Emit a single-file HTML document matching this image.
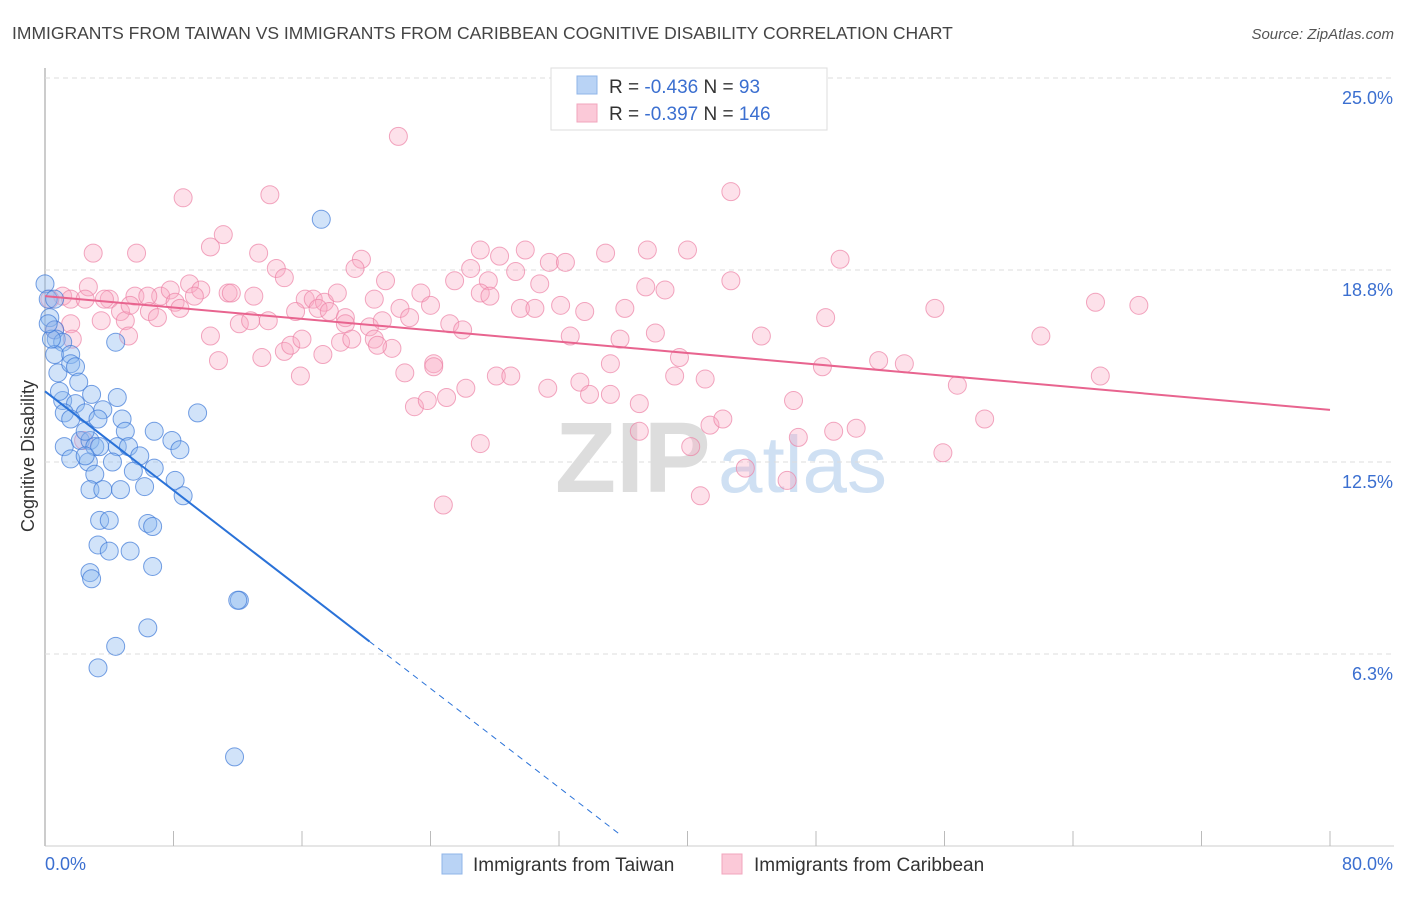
<!DOCTYPE html>
<html><head><meta charset="utf-8"><style>
body{margin:0;background:#fff;font-family:"Liberation Sans",sans-serif}
svg text{font-family:"Liberation Sans",sans-serif}
</style></head><body>
<svg id="chart" width="1406" height="892" xmlns="http://www.w3.org/2000/svg">
<text x="12" y="39" font-size="17.5" fill="#444">IMMIGRANTS FROM TAIWAN VS IMMIGRANTS FROM CARIBBEAN COGNITIVE DISABILITY CORRELATION CHART</text>
<text x="1394" y="39" font-size="15" fill="#555" text-anchor="end" font-style="italic">Source: ZipAtlas.com</text>
<text x="555" y="492" font-size="100" fill="#ddd" font-family="Liberation Serif" font-weight="bold">ZIP</text>
<text x="718" y="492" font-size="80" fill="#cfe0f3">atlas</text>
<g id="grid"></g><g id="pts"></g><g id="lines"></g>
<text transform="translate(34,456) rotate(-90)" font-size="18" fill="#333" text-anchor="middle">Cognitive Disability</text>
<g>
<rect x="551" y="68" width="276" height="62" fill="#fff" stroke="#ddd"/>
<rect x="577" y="76" width="20" height="18" fill="#b9d3f5" stroke="#8fb4e8"/>
<rect x="577" y="104" width="20" height="18" fill="#fbc9d8" stroke="#f2a5bd"/>
<text x="609" y="93" font-size="19" fill="#333">R = <tspan fill="#3b6fd0">-0.436</tspan>   N =   <tspan fill="#3b6fd0">93</tspan></text>
<text x="609" y="120" font-size="19" fill="#333">R = <tspan fill="#3b6fd0">-0.397</tspan>   N = <tspan fill="#3b6fd0">146</tspan></text>
</g>
<g>
<rect x="442" y="854" width="20" height="20" fill="#b9d3f5" stroke="#8fb4e8"/>
<text x="473" y="871" font-size="19" fill="#333">Immigrants from Taiwan</text>
<rect x="722" y="854" width="20" height="20" fill="#fbc9d8" stroke="#f2a5bd"/>
<text x="754" y="871" font-size="19" fill="#333">Immigrants from Caribbean</text>
</g>
</svg>
<script>
const yTicks=[6.25,12.5,18.75,25];
const yTickLabels=["6.3%","12.5%","18.8%","25.0%"];
const xTickLabels=["0.0%","80.0%"];
const blueX=[17.2,0,0.2,0.6,0.3,0.6,0.7,1.1,4.4,0.6,1.6,0.8,1.6,1.9,2.1,2.9,4.5,1.1,1.9,1.2,2.5,3.6,9.5,1.6,3.3,4.8,5.0,1.2,2.2,2.8,3.1,3.4,4.5,5.2,6.8,7.9,8.4,2.7,1.6,2.5,4.2,5.9,6.8,5.5,8.1,3.1,2.8,3.6,4.7,6.2,8.6,3.4,4.0,6.4,6.7,3.3,4.0,5.3,6.7,2.8,2.9,12.1,12.0,6.4,4.4,3.3,11.8,0.9,2.5,0.4,0.2];
const blueY=[20.4,18.3,17.8,17.8,17.2,16.8,16.5,16.4,16.4,16.0,16.0,15.4,15.7,15.6,15.1,14.7,14.6,14.5,14.4,14.1,14.1,14.2,14.1,13.9,13.9,13.9,13.5,13.0,13.2,13.2,13.0,13.0,13.0,13.0,13.5,13.2,12.9,12.5,12.6,12.7,12.5,12.7,12.3,12.2,11.9,12.1,11.6,11.6,11.6,11.7,11.4,10.6,10.6,10.5,10.4,9.8,9.6,9.6,9.1,8.9,8.7,8.0,8.0,7.1,6.5,5.8,2.9,14.8,13.5,16.5,17.0];
const pinkX=[22.0,42.7,8.6,14.0,11.1,3.0,5.7,10.3,13.3,19.7,27.1,29.9,28.3,34.9,37.5,40.0,49.5,31.4,32.4,26.5,14.4,29.3,19.3,14.9,21.2,25.5,27.6,30.8,37.4,38.6,42.7,16.2,9.0,5.6,7.2,7.8,9.7,11.4,11.6,13.0,9.3,6.4,4.0,2.7,1.1,1.6,2.5,3.7,4.7,6.5,8.1,8.4,16.7,17.4,18.2,17.0,17.7,18.7,20.5,22.1,23.4,24.0,27.1,27.7,29.6,30.5,32.1,33.6,36.1,55.4,65.4,68.1,48.6,1.6,3.5,5.0,7.0,10.3,12.1,12.8,13.9,15.6,18.7,20.2,21.0,22.7,25.2,26.0,32.7,35.8,38.0,44.6,62.0,5.2,1.7,10.8,13.5,14.9,15.3,16.0,17.3,18.4,19.1,20.5,21.6,22.4,24.2,20.7,15.9,24.2,26.2,28.1,29.0,31.3,33.3,33.9,35.2,37.0,39.2,39.5,41.1,51.9,53.5,48.4,56.8,65.7,23.0,23.8,25.0,35.2,37.0,41.4,42.2,46.6,58.5,46.9,49.1,50.5,27.1,40.2,43.6,55.9,46.2,40.8,24.8,0.3,0.6,2.4,5.3];
const pinkY=[23.1,21.3,21.1,21.2,19.9,19.3,19.3,19.5,19.3,19.1,19.4,19.4,19.2,19.3,19.4,19.4,19.1,19.0,19.0,18.8,18.8,18.7,18.8,18.5,18.4,18.4,18.4,18.3,18.2,18.1,18.4,17.8,18.3,17.9,17.9,18.1,18.1,18.0,18.0,17.9,17.9,17.9,17.8,18.2,17.9,17.8,17.8,17.8,17.4,17.4,17.7,17.5,17.8,17.7,18.0,17.5,17.4,17.2,17.8,17.5,18.0,17.6,18.0,17.9,17.5,17.5,17.6,17.4,17.5,17.5,17.7,17.6,17.2,17.0,17.1,17.1,17.2,16.6,17.0,17.1,17.1,17.4,17.0,16.9,17.1,17.2,17.0,16.8,16.6,16.5,16.7,16.6,16.6,16.6,16.5,15.8,15.9,16.1,16.3,16.5,16.0,16.4,16.5,16.5,16.2,15.4,15.7,16.3,15.3,15.6,14.9,15.3,15.3,14.9,15.1,14.7,15.7,14.4,15.3,15.9,15.2,15.8,15.7,15.6,15.0,15.3,14.3,14.5,14.6,14.7,13.5,13.7,13.9,14.5,13.9,13.3,13.5,13.6,13.1,13.0,12.3,12.8,11.9,11.4,11.1,17.8,16.8,13.2,17.6];
const blueTrend=[14.8,-0.403];
const pinkTrend=[17.9,-0.0463];
const X0=45,X1=1330,Y0=846,PXY=30.72;
function sx(v){return X0+(X1-X0)*v/80;}
function sy(v){return Y0-v*PXY;}
const NS="http://www.w3.org/2000/svg";
function mk(t,a,p){const e=document.createElementNS(NS,t);for(const k in a)e.setAttribute(k,a[k]);p.appendChild(e);return e;}
const grid=document.getElementById('grid');
const ax=mk('line',{x1:45,y1:68,x2:45,y2:846,stroke:'#bbb','stroke-width':1.5},grid);


const bx=mk('line',{x1:45,y1:846,x2:1394,y2:846,stroke:'#ccc'},grid);


for(let i=0;i<=10;i++){const t=mk('line',{x1:sx(i*8),y1:831,x2:sx(i*8),y2:846,stroke:'#bbb'},grid);

}
yTicks.forEach((v,i)=>{const g=mk('line',{x1:45,y1:sy(v),x2:1394,y2:sy(v),stroke:'#ddd','stroke-dasharray':'5,4'},grid);


const t=mk('text',{x:1393,y:sy(v)+26,'font-size':18,fill:'#3b6fd0','text-anchor':'end'},grid);t.textContent=yTickLabels[i];

});
const xl=mk('text',{x:45,y:870,'font-size':18,fill:'#3b6fd0'},grid);xl.textContent=xTickLabels[0];


const xr=mk('text',{x:1393,y:870,'font-size':18,fill:'#3b6fd0','text-anchor':'end'},grid);xr.textContent=xTickLabels[1];


const pts=document.getElementById('pts');
pinkX.forEach((x,i)=>{const c=mk('circle',{cx:sx(x),cy:sy(pinkY[i]),r:9,fill:'rgba(248,170,196,0.35)',stroke:'rgba(236,130,165,0.7)','stroke-width':1},pts);

});
blueX.forEach((x,i)=>{const c=mk('circle',{cx:sx(x),cy:sy(blueY[i]),r:9,fill:'rgba(140,185,240,0.4)',stroke:'rgba(60,120,215,0.7)','stroke-width':1},pts);

});
const lines=document.getElementById('lines');
const bl=mk('line',{x1:sx(0),y1:sy(blueTrend[0]),x2:sx(20.2),y2:sy(blueTrend[0]+blueTrend[1]*20.2),stroke:'#2a72d8','stroke-width':2},lines);


const bd=mk('line',{x1:sx(20.2),y1:sy(blueTrend[0]+blueTrend[1]*20.2),x2:sx(35.8),y2:sy(blueTrend[0]+blueTrend[1]*35.8),stroke:'#2a72d8','stroke-width':1,'stroke-dasharray':'6,5'},lines);


const pl=mk('line',{x1:sx(0),y1:sy(pinkTrend[0]),x2:sx(80),y2:sy(pinkTrend[0]+pinkTrend[1]*80),stroke:'#e8648f','stroke-width':2},lines);


</script>
</body></html>
